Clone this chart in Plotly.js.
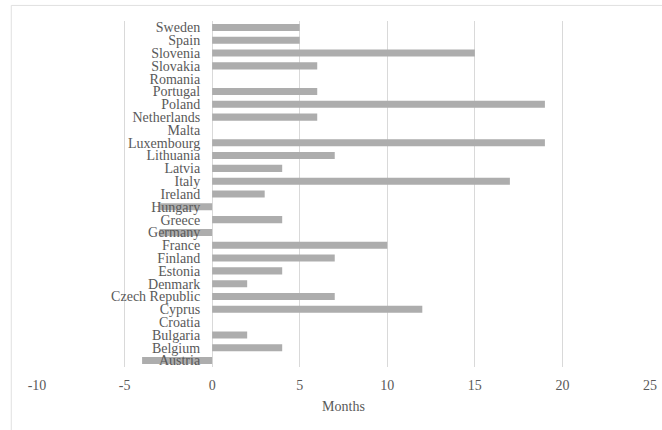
<!DOCTYPE html>
<html>
<head>
<meta charset="utf-8">
<script src="https://cdn.plot.ly/plotly-3.0.1.min.js"></script>
<style>html,body{margin:0;padding:0;background:#fff;}#chart{width:662px;height:430px;}</style>
</head>
<body>
<div id="chart"></div>
<script>
const countries = ["Austria","Belgium","Bulgaria","Croatia","Cyprus","Czech Republic","Denmark","Estonia","Finland","France","Germany","Greece","Hungary","Ireland","Italy","Latvia","Lithuania","Luxembourg","Malta","Netherlands","Poland","Portugal","Romania","Slovakia","Slovenia","Spain","Sweden"];
const months = [-4,4,2,0,12,7,2,4,7,10,-3,4,-3,3,17,4,7,19,0,6,19,6,0,6,15,5,5];
const xTicks = [-10,-5,0,5,10,15,20,25];
const xTitle = "Months";

const xMin = -10, xMax = 25;
const zeroPos = (0 - xMin) / (xMax - xMin);

const trace = {
  type: 'bar',
  orientation: 'h',
  x: months,
  y: countries,
  marker: {color: '#adadad'},
  hoverinfo: 'x+y'
};

const layout = {
  width: 662, height: 430,
  margin: {l: 37, r: 12, t: 21, b: 63},
  paper_bgcolor: '#fff', plot_bgcolor: '#fff',
  bargap: 0.45,
  showlegend: false,
  font: {family: '"Liberation Serif", "Times New Roman", serif', color: '#595959', size: 14},
  xaxis: {
    range: [xMin, xMax],
    tickmode: 'array',
    tickvals: xTicks,
    ticktext: xTicks.map(String),
    showgrid: true, gridcolor: '#d9d9d9', gridwidth: 1,
    zeroline: true, zerolinecolor: '#d9d9d9', zerolinewidth: 1,
    showline: false, ticks: '',
    ticklabelstandoff: 8,
    tickfont: {size: 14, color: '#595959'},
    title: {text: xTitle, font: {size: 14, color: '#595959'}, standoff: 9},
    automargin: false,
    fixedrange: true
  },
  yaxis: {
    type: 'category',
    categoryorder: 'array', categoryarray: countries,
    tickmode: 'array', tickvals: countries, ticktext: countries,
    anchor: 'free', position: zeroPos,
    showgrid: false, zeroline: false, showline: false, ticks: '',
    ticklabelstandoff: 12,
    tickfont: {size: 14, color: '#595959'},
    range: [-0.5, countries.length - 0.5],
    automargin: false,
    fixedrange: true
  },
  shapes: [
    {type: 'line', xref: 'paper', yref: 'paper', x0: -0.042, x1: -0.042, y0: 1.045, y1: -0.2, line: {color: '#e0e0e0', width: 1}},
    {type: 'line', xref: 'paper', yref: 'paper', x0: -0.042, x1: 1.1, y0: 1.045, y1: 1.045, line: {color: '#e0e0e0', width: 1}}
  ]
};

Plotly.newPlot('chart', [trace], layout, {displayModeBar: false, staticPlot: true});
</script>
</body>
</html>
